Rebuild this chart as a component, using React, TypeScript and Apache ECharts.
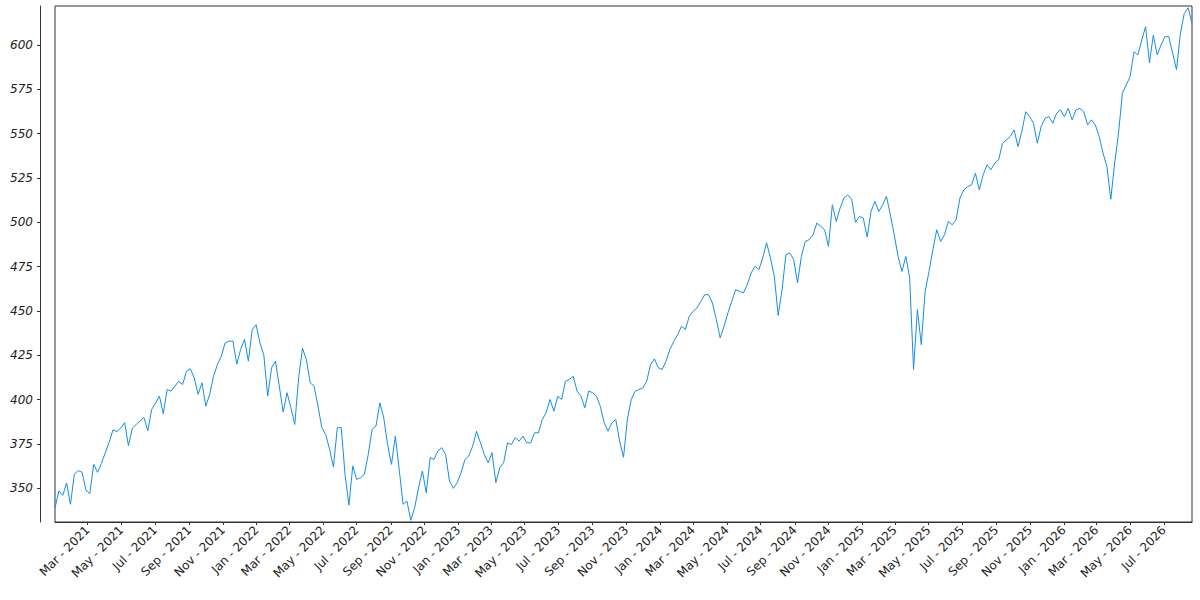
import React, { useEffect, useRef } from "react";
import * as echarts from "echarts";

// Weekly samples starting 2021-01-01 (one value every 7 days)
const START_DATE = [2021, 0, 1];
const STEP_DAYS = 7;

const prices: number[] = [
  339, 348.5, 346, 353, 341, 358, 360, 359, 349, 347,
  363.5, 359, 364, 370, 376, 383, 382, 384, 387, 374,
  384, 386, 388, 390, 382.5, 394.5, 398, 402, 392, 405.7,
  404.8, 407.6, 410.4, 408.5, 416, 417.4, 412.3, 403, 409.5, 396.3,
  403, 413.2, 419.8, 424.5, 432, 433, 433, 420, 428.3, 434,
  421.7, 439.5, 442.3, 432, 425.2, 402, 418, 421.7, 407.6, 393,
  403.9, 395.4, 386, 412.3, 429, 422.6, 409.5, 407.6, 396.3, 384.2,
  380.4, 372, 362, 384.2, 384.2, 357.9, 340.5, 362.6, 355, 356,
  357.9, 369.1, 383.2, 385.1, 398.2, 389.8, 374.7, 363.5, 379.4, 360.7,
  341, 342.8, 332, 339, 350.3, 359.7, 347.5, 367.3, 366.3, 371,
  372.9, 369.1, 354.1, 350, 353.2, 358.8, 366.3, 368.2, 373.8, 382.2,
  375.7, 369.1, 364.4, 370.1, 353.2, 361.6, 364.4, 375.7, 374.7, 378.5,
  376.6, 379.4, 375.7, 375.7, 381.3, 381.3, 388.8, 392.6, 400.1, 393.5,
  401.9, 400.1, 410.4, 411.4, 413.2, 404.8, 401.9, 395.4, 404.8, 403.9,
  401.9, 396.3, 387, 382.2, 387, 388.8, 376.6, 367.5, 388.8, 400.1,
  404.8, 405.7, 406.6, 410.4, 419.8, 423, 418, 417, 421.7, 428.3,
  432.9, 436.7, 441.4, 439.5, 447, 449.8, 451.7, 455.5, 459.2, 459.2,
  454.5, 445.2, 434.8, 441.4, 448.9, 455.5, 462, 461.1, 460.2, 464.8,
  471.4, 475.2, 473.3, 479.9, 488.5, 479.9, 469.5, 447.5, 462, 481.8,
  482.7, 479, 465.8, 480.8, 489.2, 490.2, 493, 499.6, 497.7, 495.8,
  486.4, 509.9, 500.5, 508, 513.7, 515.5, 513, 500, 503.3, 502.4,
  491.7, 506.1, 511.8, 506.1, 509.9, 514.6, 504.3, 493, 480.8, 472.3,
  480.8, 468.6, 417, 450.8, 431, 461.1, 472.3, 484.6, 495.8, 489.2,
  493, 500.5, 498.6, 501.5, 513.7, 518.3, 520.2, 521.1, 527.7, 518.3,
  526.8, 532.4, 529.6, 533.4, 535.2, 544.6, 546.5, 548.4, 552.1, 542.7,
  551.2, 562.4, 559.6, 555.9, 544.6, 554, 558.7, 559.6, 555.9, 561.5,
  563.4, 559.6, 564.3, 557.8, 563.4, 564.3, 562.4, 554.9, 557.8, 554.9,
  548.4, 539, 531.5, 513, 533.4, 550.3, 572.8, 577.5, 582.2, 596.2,
  594.4, 602.8, 610.3, 590, 605.6, 594.4, 600, 604.7, 604.7, 595.3,
  586, 606.6, 617.8, 621, 612.2,
];

const xTickDates: string[] = [
  "2021-03-01", "2021-05-01", "2021-07-01", "2021-09-01", "2021-11-01",
  "2022-01-01", "2022-03-01", "2022-05-01", "2022-07-01", "2022-09-01", "2022-11-01",
  "2023-01-01", "2023-03-01", "2023-05-01", "2023-07-01", "2023-09-01", "2023-11-01",
  "2024-01-01", "2024-03-01", "2024-05-01", "2024-07-01", "2024-09-01", "2024-11-01",
  "2025-01-01", "2025-03-01", "2025-05-01", "2025-07-01", "2025-09-01", "2025-11-01",
  "2026-01-01", "2026-03-01", "2026-05-01", "2026-07-01",
];

const yTicks: number[] = [350, 375, 400, 425, 450, 475, 500, 525, 550, 575, 600];
const monthNames: string[] = ["Jan", "Feb", "Mar", "Apr", "May", "Jun", "Jul", "Aug", "Sep", "Oct", "Nov", "Dec"];

const Y_MIN = 331;
const Y_MAX = 622;

function parseLocal(s: string): number {
  const [y, m, d] = s.split("-").map(Number);
  return new Date(y, m - 1, d).getTime();
}

export default function App() {
  const ref = useRef<HTMLDivElement>(null);

  useEffect(() => {
    if (!ref.current) return;
    const chart = echarts.init(ref.current, null, { renderer: "svg" });
    const seriesData = prices.map((v, k) => [
      new Date(START_DATE[0], START_DATE[1], START_DATE[2] + k * STEP_DAYS).getTime(),
      v,
    ]);
    const xMin = seriesData[0][0];
    const xMax = seriesData[seriesData.length - 1][0];
    const tickVals = xTickDates.map(parseLocal);

    chart.setOption({
      animation: false,
      backgroundColor: "#ffffff",
      grid: {
        left: 55,
        right: 8,
        top: 6,
        bottom: 78,
        show: true,
        borderColor: "#333333",
        borderWidth: 1,
        backgroundColor: "transparent",
      },
      xAxis: {
        type: "value",
        min: xMin,
        max: xMax,
        scale: true,
        axisLine: { show: true, lineStyle: { color: "#333333", width: 1 } },
        axisTick: {
          show: true,
          length: 3,
          customValues: tickVals,
          lineStyle: { color: "#333333" },
        },
        axisLabel: {
          customValues: tickVals,
          rotate: 45,
          margin: 6,
          fontFamily: "DejaVu Sans",
          fontSize: 12,
          color: "#222222",
          hideOverlap: false,
          formatter: (val: number) => {
            const d = new Date(val);
            return `${monthNames[d.getMonth()]} - ${d.getFullYear()}`;
          },
        },
        splitLine: { show: false },
      },
      yAxis: {
        type: "value",
        min: Y_MIN,
        max: Y_MAX,
        offset: 15,
        axisLine: { show: true, lineStyle: { color: "#333333", width: 1 } },
        axisTick: {
          show: true,
          length: 3,
          customValues: yTicks,
          lineStyle: { color: "#333333" },
        },
        axisLabel: {
          customValues: yTicks,
          margin: 7,
          fontFamily: "DejaVu Sans",
          fontStyle: "italic",
          fontSize: 12,
          color: "#222222",
          formatter: (v: number) => String(v),
        },
        splitLine: { show: false },
      },
      series: [
        {
          type: "line",
          data: seriesData,
          showSymbol: false,
          symbol: "none",
          lineStyle: { color: "#148ee6", width: 1 },
        },
      ],
    });

    return () => chart.dispose();
  }, []);

  return (
    <div
      ref={ref}
      style={{ position: "fixed", left: 0, top: 0, width: 1200, height: 600 }}
    />
  );
}
